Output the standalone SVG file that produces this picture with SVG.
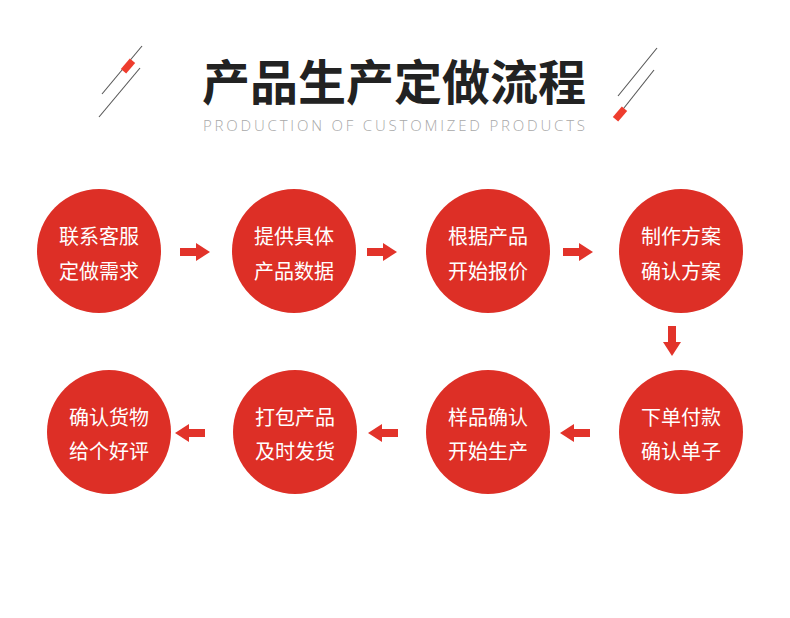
<svg xmlns="http://www.w3.org/2000/svg" width="790" height="618" viewBox="0 0 790 618">
<style>
.circ{fill:#dd2f26}
.lbl{font-family:"Noto Sans CJK SC","Noto Sans",sans-serif;font-size:20px;fill:#ffffff;text-anchor:middle}
.arr{fill:#e2332a}
.deco{stroke:#555555;stroke-width:1.1;fill:none}
.tag{fill:#ee3d2e}
</style>
<defs>
<g id="arrowR"><rect x="-15" y="-4" width="16" height="8"/><polygon points="1,-9 15,0 1,9"/></g>
</defs>
<rect width="790" height="618" fill="#ffffff"/>
<g id="title">
<line class="deco" x1="102" y1="94" x2="142" y2="46"/>
<line class="deco" x1="99" y1="117" x2="140" y2="68"/>
<rect class="tag" x="-7" y="-3.5" width="14" height="7" transform="translate(128,66) rotate(-50)"/>
<line class="deco" x1="618" y1="96" x2="657" y2="48"/>
<line class="deco" x1="620" y1="113" x2="654" y2="70"/>
<rect class="tag" x="-7" y="-3.5" width="14" height="7" transform="translate(620,114) rotate(-50)"/>
<text x="394" y="100" font-family="'Noto Sans CJK SC',sans-serif" font-weight="bold" font-size="48" fill="#222222" text-anchor="middle">产品生产定做流程</text>
<text x="203" y="131" font-family="'Open Sans','Noto Sans',sans-serif" font-weight="300" font-size="15" fill="#a8a8a8" textLength="382" lengthAdjust="spacing">PRODUCTION OF CUSTOMIZED PRODUCTS</text>
</g>
<g id="n1"><circle class="circ" cx="99" cy="251" r="62"/><text class="lbl" x="99" y="244">联系客服</text><text class="lbl" x="99" y="279">定做需求</text></g>
<g id="n2"><circle class="circ" cx="294" cy="251" r="62"/><text class="lbl" x="294" y="244">提供具体</text><text class="lbl" x="294" y="279">产品数据</text></g>
<g id="n3"><circle class="circ" cx="488" cy="251" r="62"/><text class="lbl" x="488" y="244">根据产品</text><text class="lbl" x="488" y="279">开始报价</text></g>
<g id="n4"><circle class="circ" cx="681" cy="251" r="62"/><text class="lbl" x="681" y="244">制作方案</text><text class="lbl" x="681" y="279">确认方案</text></g>
<g id="n5"><circle class="circ" cx="681" cy="432" r="62"/><text class="lbl" x="681" y="425">下单付款</text><text class="lbl" x="681" y="459">确认单子</text></g>
<g id="n6"><circle class="circ" cx="488" cy="432" r="62"/><text class="lbl" x="488" y="425">样品确认</text><text class="lbl" x="488" y="459">开始生产</text></g>
<g id="n7"><circle class="circ" cx="295" cy="432" r="62"/><text class="lbl" x="295" y="425">打包产品</text><text class="lbl" x="295" y="459">及时发货</text></g>
<g id="n8"><circle class="circ" cx="109" cy="432" r="62"/><text class="lbl" x="109" y="425">确认货物</text><text class="lbl" x="109" y="459">给个好评</text></g>
<g id="connectors" class="arr">
<use href="#arrowR" transform="translate(195,252)"/>
<use href="#arrowR" transform="translate(382,252)"/>
<use href="#arrowR" transform="translate(578,252)"/>
<use href="#arrowR" transform="translate(672,341) rotate(90)"/>
<use href="#arrowR" transform="translate(575,433) rotate(180)"/>
<use href="#arrowR" transform="translate(383,433) rotate(180)"/>
<use href="#arrowR" transform="translate(190,433) rotate(180)"/>
</g>
</svg>
